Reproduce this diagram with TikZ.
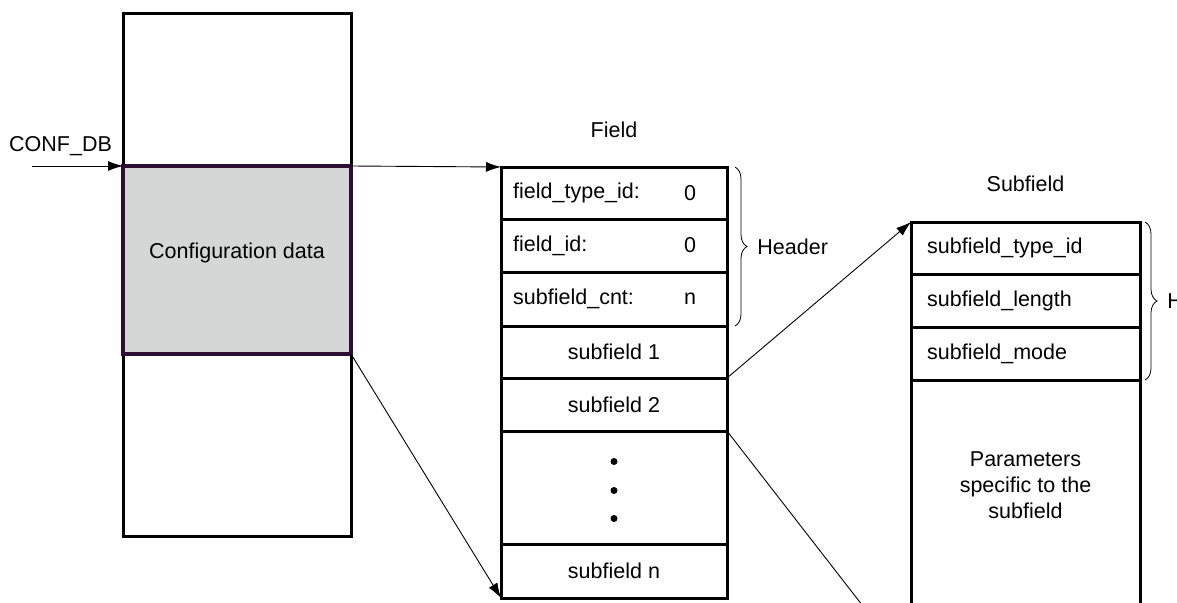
\documentclass[tikz,border=0pt]{standalone}
\usepackage{fontspec}
\setmainfont{Liberation Sans}
\usetikzlibrary{positioning,arrows.meta,decorations.pathreplacing}

\definecolor{cfgfill}{HTML}{D5D7D7}
\definecolor{cfgline}{HTML}{2C0F32}

\tikzset{
  cell/.style = {draw, line width=3pt, minimum width=226pt, outer sep=0pt, inner sep=0pt},
  txt/.style = {inner sep=1pt},
  link/.style = {line width=0.9pt, -{Latex[length=15pt,width=10pt]}},
  hbrace/.style = {decorate, decoration={brace, amplitude=12pt}, line width=0.8pt},
}

\begin{document}
\begin{tikzpicture}[x=1pt, y=-1pt, font=\fontsize{21.5}{26}\selectfont]
  \useasboundingbox (0,0) rectangle (1177,602);

  % configuration database
  \node[cell, minimum width=228pt, minimum height=522pt, anchor=north west] (db) at (123,14) {};
  \node[cell, minimum width=228pt, minimum height=188pt, anchor=north west,
        fill=cfgfill, draw=cfgline, line width=3.5pt] (cfg) at (123,166) {};
  \node[txt] (cfgtxt) at ([yshift=7pt]cfg.center) {Configuration data};

  \node[txt, anchor=west] (confdb) at (8,146) {CONF\_DB};
  \coordinate (confin) at (32,166);
  \draw[link] (confin) -- (cfg.north west);

  % field
  \node[cell, minimum height=52pt, anchor=north west] (ftype) at (501,167) {};
  \node[cell, minimum height=53pt, below=0pt of ftype] (fid) {};
  \node[cell, minimum height=54pt, below=0pt of fid] (fcnt) {};
  \node[cell, minimum height=52pt, below=0pt of fcnt] (fsub1) {subfield 1};
  \node[cell, minimum height=53pt, below=0pt of fsub1] (fsub2) {subfield 2};
  \node[cell, minimum height=113pt, below=0pt of fsub2] (fdots) {};
  \node[cell, minimum height=54pt, below=0pt of fdots] (fsubn) {subfield n};

  \node[txt, above=28pt of ftype] (fieldttl) {Field};

  \node[txt, anchor=west] (ftypetxt) at ([xshift=11pt]ftype.west) {field\_type\_id:};
  \node[txt] (ftypeval) at ([xshift=-37pt]ftype.east) {0};
  \node[txt, anchor=west] (fidtxt) at ([xshift=11pt]fid.west) {field\_id:};
  \node[txt] (fidval) at ([xshift=-37pt]fid.east) {0};
  \node[txt, anchor=west] (fcnttxt) at ([xshift=11pt]fcnt.west) {subfield\_cnt:};
  \node[txt] (fcntval) at ([xshift=-37pt]fcnt.east) {n};

  \foreach \dy in {-26,3,31}
    \fill (fdots.center) ++(0,\dy) circle (3.5pt);

  \draw[hbrace] ([xshift=8pt]ftype.north east) -- ([xshift=8pt]fcnt.south east)
    node[txt, midway, right=21pt] (fhdr) {Header};

  % subfield
  \node[cell, minimum width=229pt, minimum height=52pt, anchor=north west] (stype) at (911,222) {};
  \node[cell, minimum width=229pt, minimum height=53pt, below=0pt of stype] (slen) {};
  \node[cell, minimum width=229pt, minimum height=53pt, below=0pt of slen] (smode) {};
  \node[cell, minimum width=229pt, minimum height=288pt, below=0pt of smode] (sparam) {};

  \node[txt, above=29pt of stype] (subttl) {Subfield};

  \node[txt, anchor=west] (stypetxt) at ([xshift=15pt]stype.west) {subfield\_type\_id};
  \node[txt, anchor=west] (slentxt) at ([xshift=15pt]slen.west) {subfield\_length};
  \node[txt, anchor=west] (smodetxt) at ([xshift=15pt]smode.west) {subfield\_mode};
  \node[txt, align=center] (sparamtxt) at ([yshift=-105pt]sparam.north) {Parameters\\specific to the\\subfield};

  \draw[hbrace] ([xshift=5pt]stype.north east) -- ([xshift=5pt]smode.south east)
    node[txt, midway, right=21pt] (shdr) {Header};

  % connectors
  \draw[link] (cfg.north east) -- (ftype.north west);
  \draw[link] (cfg.south east) -- (fsubn.south west);
  \draw[link] (fsub1.south east) -- (stype.north west);
  \draw[link] (fsub2.south east) -- (sparam.south west);
\end{tikzpicture}
\end{document}
